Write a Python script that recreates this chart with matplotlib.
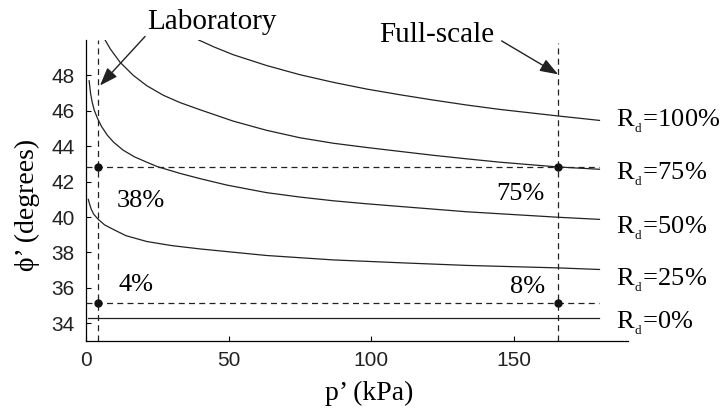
import matplotlib
matplotlib.use("Agg")
import matplotlib.pyplot as plt

plt.rcParams['font.family'] = ['Liberation Serif', 'DejaVu Serif']
plt.rcParams['mathtext.fontset'] = 'stix'

# === 曲線資料 ===
p_100 = [39.5, 45, 51.6, 63.3, 75, 86.7, 98.4, 110, 121.7, 133.4, 145.1, 165.5, 180]
phi_100 = [50.0, 49.6, 49.17, 48.56, 48.04, 47.61, 47.23, 46.91, 46.61, 46.33, 46.08, 45.71, 45.46]

p_75 = [6.7, 8.5, 11.9, 16.6, 21.3, 27.1, 32.9, 40, 51.6, 63.3, 75, 86.7, 98.4, 110,
        121.7, 133.4, 145.1, 165.5, 180]
phi_75 = [50.0, 49.5, 48.75, 48.0, 47.42, 46.88, 46.47, 46.06, 45.42, 44.9, 44.48, 44.17,
          43.93, 43.71, 43.49, 43.29, 43.1, 42.83, 42.7]

p_50 = [1.1, 1.6, 2.2, 2.9, 4.1, 5.5, 7.5, 9.6, 13, 17, 21.3, 25, 32.9, 40, 49.3, 63.3,
        75, 86.7, 98.4, 110, 133.4, 165.5, 180]
phi_50 = [47.7, 46.98, 46.46, 46.03, 45.55, 45.1, 44.62, 44.24, 43.78, 43.4, 43.1, 42.85,
          42.47, 42.17, 41.81, 41.38, 41.13, 40.92, 40.75, 40.6, 40.3, 39.99, 39.87]

p_25 = [0.8, 1.2, 1.8, 2.7, 4.3, 6.5, 9.6, 14, 21.3, 30, 40, 63.3, 86.7, 110, 133.4, 165.5, 180]
phi_25 = [41.0, 40.76, 40.46, 40.16, 39.87, 39.56, 39.3, 38.95, 38.62, 38.39, 38.2, 37.83,
          37.58, 37.42, 37.27, 37.13, 37.04]

p_0 = [0.8, 180]
phi_0 = [34.3, 34.3]

curve_labels = ["100%", "75%", "50%", "25%", "0%"]

# 實驗室與足尺條件
p_lab = 4.1
p_full = 165.5
phi_hi = 42.85
phi_lo = 35.15

# === 畫圖 ===
fig = plt.figure(figsize=(7.21, 4.13), dpi=100)
ax = fig.add_axes([0.1193, 0.1743, 0.7517, 0.7288])

curves = [(p_100, phi_100), (p_75, phi_75), (p_50, phi_50), (p_25, phi_25), (p_0, phi_0)]
for p, phi in curves:
    ax.plot(p, phi, color="#222222", lw=0.9)

dash = (0, (4.8, 3.4))
ax.plot([p_lab, p_lab], [33, 50], color="#222222", lw=0.9, ls=dash, clip_on=False)
ax.plot([p_full, p_full], [33, 49.85], color="#222222", lw=0.9, ls=dash)
ax.plot([0, 180], [phi_hi, phi_hi], color="#222222", lw=0.9, ls=dash)
ax.plot([0, 180], [phi_lo, phi_lo], color="#222222", lw=0.9, ls=dash)
ax.plot([p_lab, p_full, p_lab, p_full], [phi_hi, phi_hi, phi_lo, phi_lo], "o",
        color="#111111", ms=5, zorder=5)

# 右側 Rd 標籤
label_y = [45.12, 42.1, 39.07, 36.13, 33.67]
for txt, y in zip(curve_labels, label_y):
    ax.text(185.9, y, "R$_{{}_{\\mathregular{d}}}$=" + txt, fontsize=19, va="baseline",
            ha="left", clip_on=False)

# 百分比標籤
ax.text(10.7, 40.58, "38%", fontsize=19, va="baseline", ha="left")
ax.text(11.3, 35.8, "4%", fontsize=19, va="baseline", ha="left")
ax.text(160.9, 40.96, "75%", fontsize=19, va="baseline", ha="right")
ax.text(160.9, 35.72, "8%", fontsize=19, va="baseline", ha="right")

# 箭頭說明
arrow = dict(arrowstyle="-|>,head_length=0.55,head_width=0.2", color="#222222", lw=1.0,
             mutation_scale=20, shrinkA=0, shrinkB=0)
ax.text(44.2, 50.65, "Laboratory", fontsize=21, ha="center", va="baseline", clip_on=False)
ax.annotate("", xy=(4.9, 47.43), xytext=(20.7, 50.2), arrowprops=arrow,
            annotation_clip=False)
ax.text(122.9, 49.89, "Full-scale", fontsize=21, ha="center", va="baseline", clip_on=False)
ax.annotate("", xy=(165.5, 48.06), xytext=(145.7, 49.95), arrowprops=arrow,
            annotation_clip=False)

# 座標軸
ax.set_xlim(0, 190)
ax.set_ylim(33, 50)
ax.set_xticks([0, 50, 100, 150])
ax.set_yticks([34, 36, 38, 40, 42, 44, 46, 48])
for s in ["top", "right"]:
    ax.spines[s].set_visible(False)
for s in ["left", "bottom"]:
    ax.spines[s].set_linewidth(0.9)
ax.tick_params(direction="in", length=3.6, width=0.8, labelsize=15)
ax.tick_params(axis="x", pad=7)
ax.tick_params(axis="y", pad=8)
for lab in ax.get_xticklabels() + ax.get_yticklabels():
    lab.set_family(["Liberation Sans", "DejaVu Sans"])
    lab.set_color("#222222")

ax.set_xlabel("p’ (kPa)", fontsize=20, va="baseline")
ax.xaxis.set_label_coords(0.522, -0.196)
ax.set_ylabel("ϕ’ (degrees)", fontsize=20, va="center")
ax.yaxis.set_label_coords(-0.109, 0.452)

fig.savefig("out.png", dpi=100)
